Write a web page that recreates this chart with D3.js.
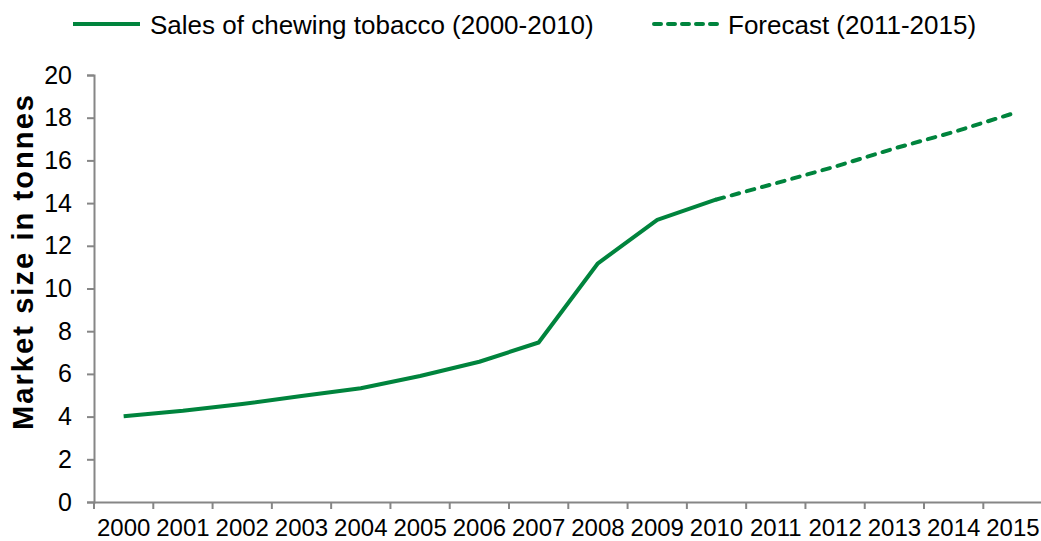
<!DOCTYPE html>
<html>
<head>
<meta charset="utf-8">
<script src="https://cdn.jsdelivr.net/npm/d3@7"></script>
<style>
  html, body { margin: 0; padding: 0; background: #fff; }
  svg { display: block; font-family: "Liberation Sans", Arial, sans-serif; }
</style>
</head>
<body>
<svg id="chart" width="1041" height="541"></svg>
<script>
const years = ["2000","2001","2002","2003","2004","2005","2006","2007","2008","2009","2010","2011","2012","2013","2014","2015"];
const salesYears = ["2000","2001","2002","2003","2004","2005","2006","2007","2008","2009","2010"];
const salesValues = [4.02, 4.27, 4.59, 4.96, 5.33, 5.9, 6.57, 7.47, 11.18, 13.21, 14.17];
const forecastYears = ["2010","2011","2012","2013","2014","2015"];
const forecastValues = [14.17, 14.93, 15.71, 16.56, 17.33, 18.2];
const yTicks = [0, 2, 4, 6, 8, 10, 12, 14, 16, 18, 20];
const seriesNames = ["Sales of chewing tobacco (2000-2010)", "Forecast (2011-2015)"];
const yTitle = "Market size in tonnes";

const green = "#00843d";
const axisColor = "#868686";

const svg = d3.select("#chart");
const x = d3.scaleBand().domain(years).range([94, 1042.6]).padding(0);
const y = d3.scaleLinear().domain([0, 20]).range([502, 75]);
const cx = d => x(d) + x.bandwidth() / 2;

// Y axis
const yAxis = svg.append("g").attr("transform", "translate(94,0)")
  .call(d3.axisLeft(y).tickValues(yTicks).tickSize(7).tickPadding(15).tickFormat(d3.format("d")));
yAxis.select(".domain").attr("stroke", axisColor).attr("stroke-width", 2);
yAxis.selectAll(".tick line").attr("stroke", axisColor).attr("stroke-width", 2);
yAxis.selectAll(".tick text").attr("fill", "#000").style("font-size", "25px")
  .style("font-family", "'Liberation Sans', Arial, sans-serif");

// X axis
const xAxis = svg.append("g").attr("transform", "translate(0,502)")
  .call(d3.axisBottom(x).tickSize(0).tickPadding(17).tickSizeOuter(0));
xAxis.select(".domain").attr("stroke", axisColor).attr("stroke-width", 2);
xAxis.selectAll(".tick text").attr("fill", "#000").style("font-size", "24px")
  .style("font-family", "'Liberation Sans', Arial, sans-serif");
// boundary ticks
const boundaries = years.map(d => x(d)).concat([x(years[years.length - 1]) + x.bandwidth()]);
xAxis.selectAll("line.bt").data(boundaries).enter().append("line")
  .attr("class", "bt")
  .attr("x1", d => d).attr("x2", d => d).attr("y1", 0).attr("y2", 7)
  .attr("stroke", axisColor).attr("stroke-width", 2);

// Y title
svg.append("text")
  .attr("transform", "translate(33,262.5) rotate(-90)")
  .attr("text-anchor", "middle")
  .attr("textLength", 335).attr("lengthAdjust", "spacing")
  .style("font-size", "29px").style("font-weight", "bold")
  .text(yTitle);

// Lines
const line = d3.line().x(d => cx(d[0])).y(d => y(d[1]));
svg.append("path")
  .datum(salesYears.map((d, i) => [d, salesValues[i]]))
  .attr("d", line).attr("fill", "none").attr("stroke", green)
  .attr("stroke-width", 4).attr("stroke-linejoin", "round");
svg.append("path")
  .datum(forecastYears.map((d, i) => [d, forecastValues[i]]))
  .attr("d", line).attr("fill", "none").attr("stroke", green)
  .attr("stroke-width", 4).attr("stroke-dasharray", "7.7,8").attr("stroke-linecap", "round");

// Legend
const leg = svg.append("g");
leg.append("line").attr("x1", 73).attr("x2", 140).attr("y1", 24).attr("y2", 24)
  .attr("stroke", green).attr("stroke-width", 4);
leg.append("text").attr("x", 150).attr("y", 34).style("font-size", "26px").text(seriesNames[0]);
leg.append("line").attr("x1", 654).attr("x2", 720).attr("y1", 24).attr("y2", 24)
  .attr("stroke", green).attr("stroke-width", 4).attr("stroke-dasharray", "7,7").attr("stroke-linecap", "round");
leg.append("text").attr("x", 728).attr("y", 34).style("font-size", "26px").text(seriesNames[1]);
</script>
</body>
</html>
